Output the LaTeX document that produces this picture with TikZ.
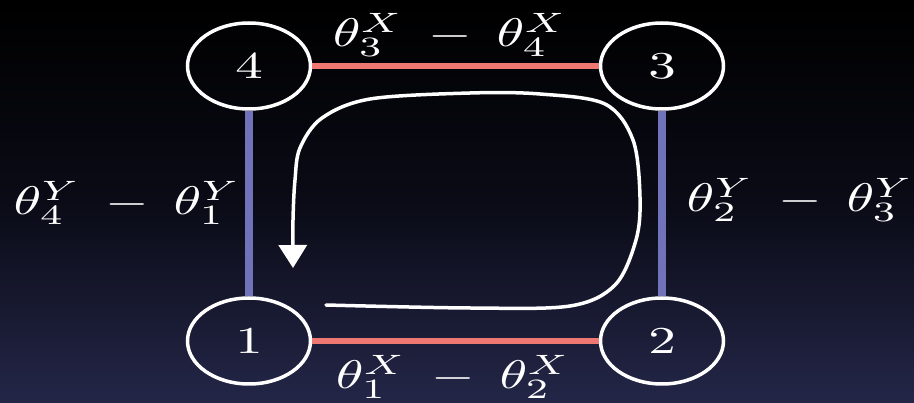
\documentclass[tikz,border=0pt]{standalone}
\usepackage{graphicx}
\usetikzlibrary{shapes.geometric,arrows.meta}
\definecolor{edgered}{RGB}{240,120,114}
\definecolor{edgeblue}{RGB}{112,114,186}
\definecolor{bgtop}{RGB}{0,0,0}
\definecolor{bgmid}{RGB}{10,11,22}
\definecolor{bgbot}{RGB}{36,38,72}
\newcommand{\wide}[1]{\scalebox{5.6}[4.0]{#1}}
\newcommand{\digit}[1]{\scalebox{5.5}[3.8]{#1}}
\tikzset{
  vertex/.style={ellipse, draw=white, line width=3.5pt, minimum width=123pt, minimum height=86pt, inner sep=0pt, text=white},
  xedge/.style={draw=edgered, line width=6.5pt},
  yedge/.style={draw=edgeblue, line width=8pt},
  lab/.style={text=white, inner sep=0pt},
}
\begin{document}
\begin{tikzpicture}[x=1pt,y=-1pt]
\shade[top color=bgtop, bottom color=bgbot, middle color=bgmid] (0,0) rectangle (914,403);
\useasboundingbox (0,0) rectangle (914,403);
\node[vertex] (n4) at (249,66) {\digit{$4$}};
\node[vertex] (n3) at (662,66) {\digit{$3$}};
\node[vertex] (n1) at (249,341) {\digit{$1$}};
\node[vertex] (n2) at (662,341) {\digit{$2$}};
\draw[xedge] (n4) -- (n3);
\draw[xedge] (n1) -- (n2);
\draw[yedge] (n4) -- (n1);
\draw[yedge] (n3) -- (n2);
\node[lab] (l43) at (450,35) {\wide{$\theta_3^X\mkern4mu - \mkern4mu\theta_4^X$}};
\node[lab] (l12) at (453,377) {\wide{$\theta_1^X\mkern4mu - \mkern4mu\theta_2^X$}};
\node[lab] (l41) at (127,203) {\wide{$\theta_4^Y\mkern4mu - \mkern4mu\theta_1^Y$}};
\node[lab] (l23) at (800,200) {\wide{$\theta_2^Y\mkern4mu - \mkern4mu\theta_3^Y$}};
\draw[white, line width=3.5pt, line cap=round, -{Triangle[width=28pt,length=23pt]}]
  plot[smooth, tension=0.55] coordinates {(326,305) (470,308) (570,306) (615,285) (636,240) (640,197) (633,140) (605,104) (540,94) (470,93) (370,99) (322,118) (300,148) (295,180) (293,220) (293,268)};
\end{tikzpicture}
\end{document}
